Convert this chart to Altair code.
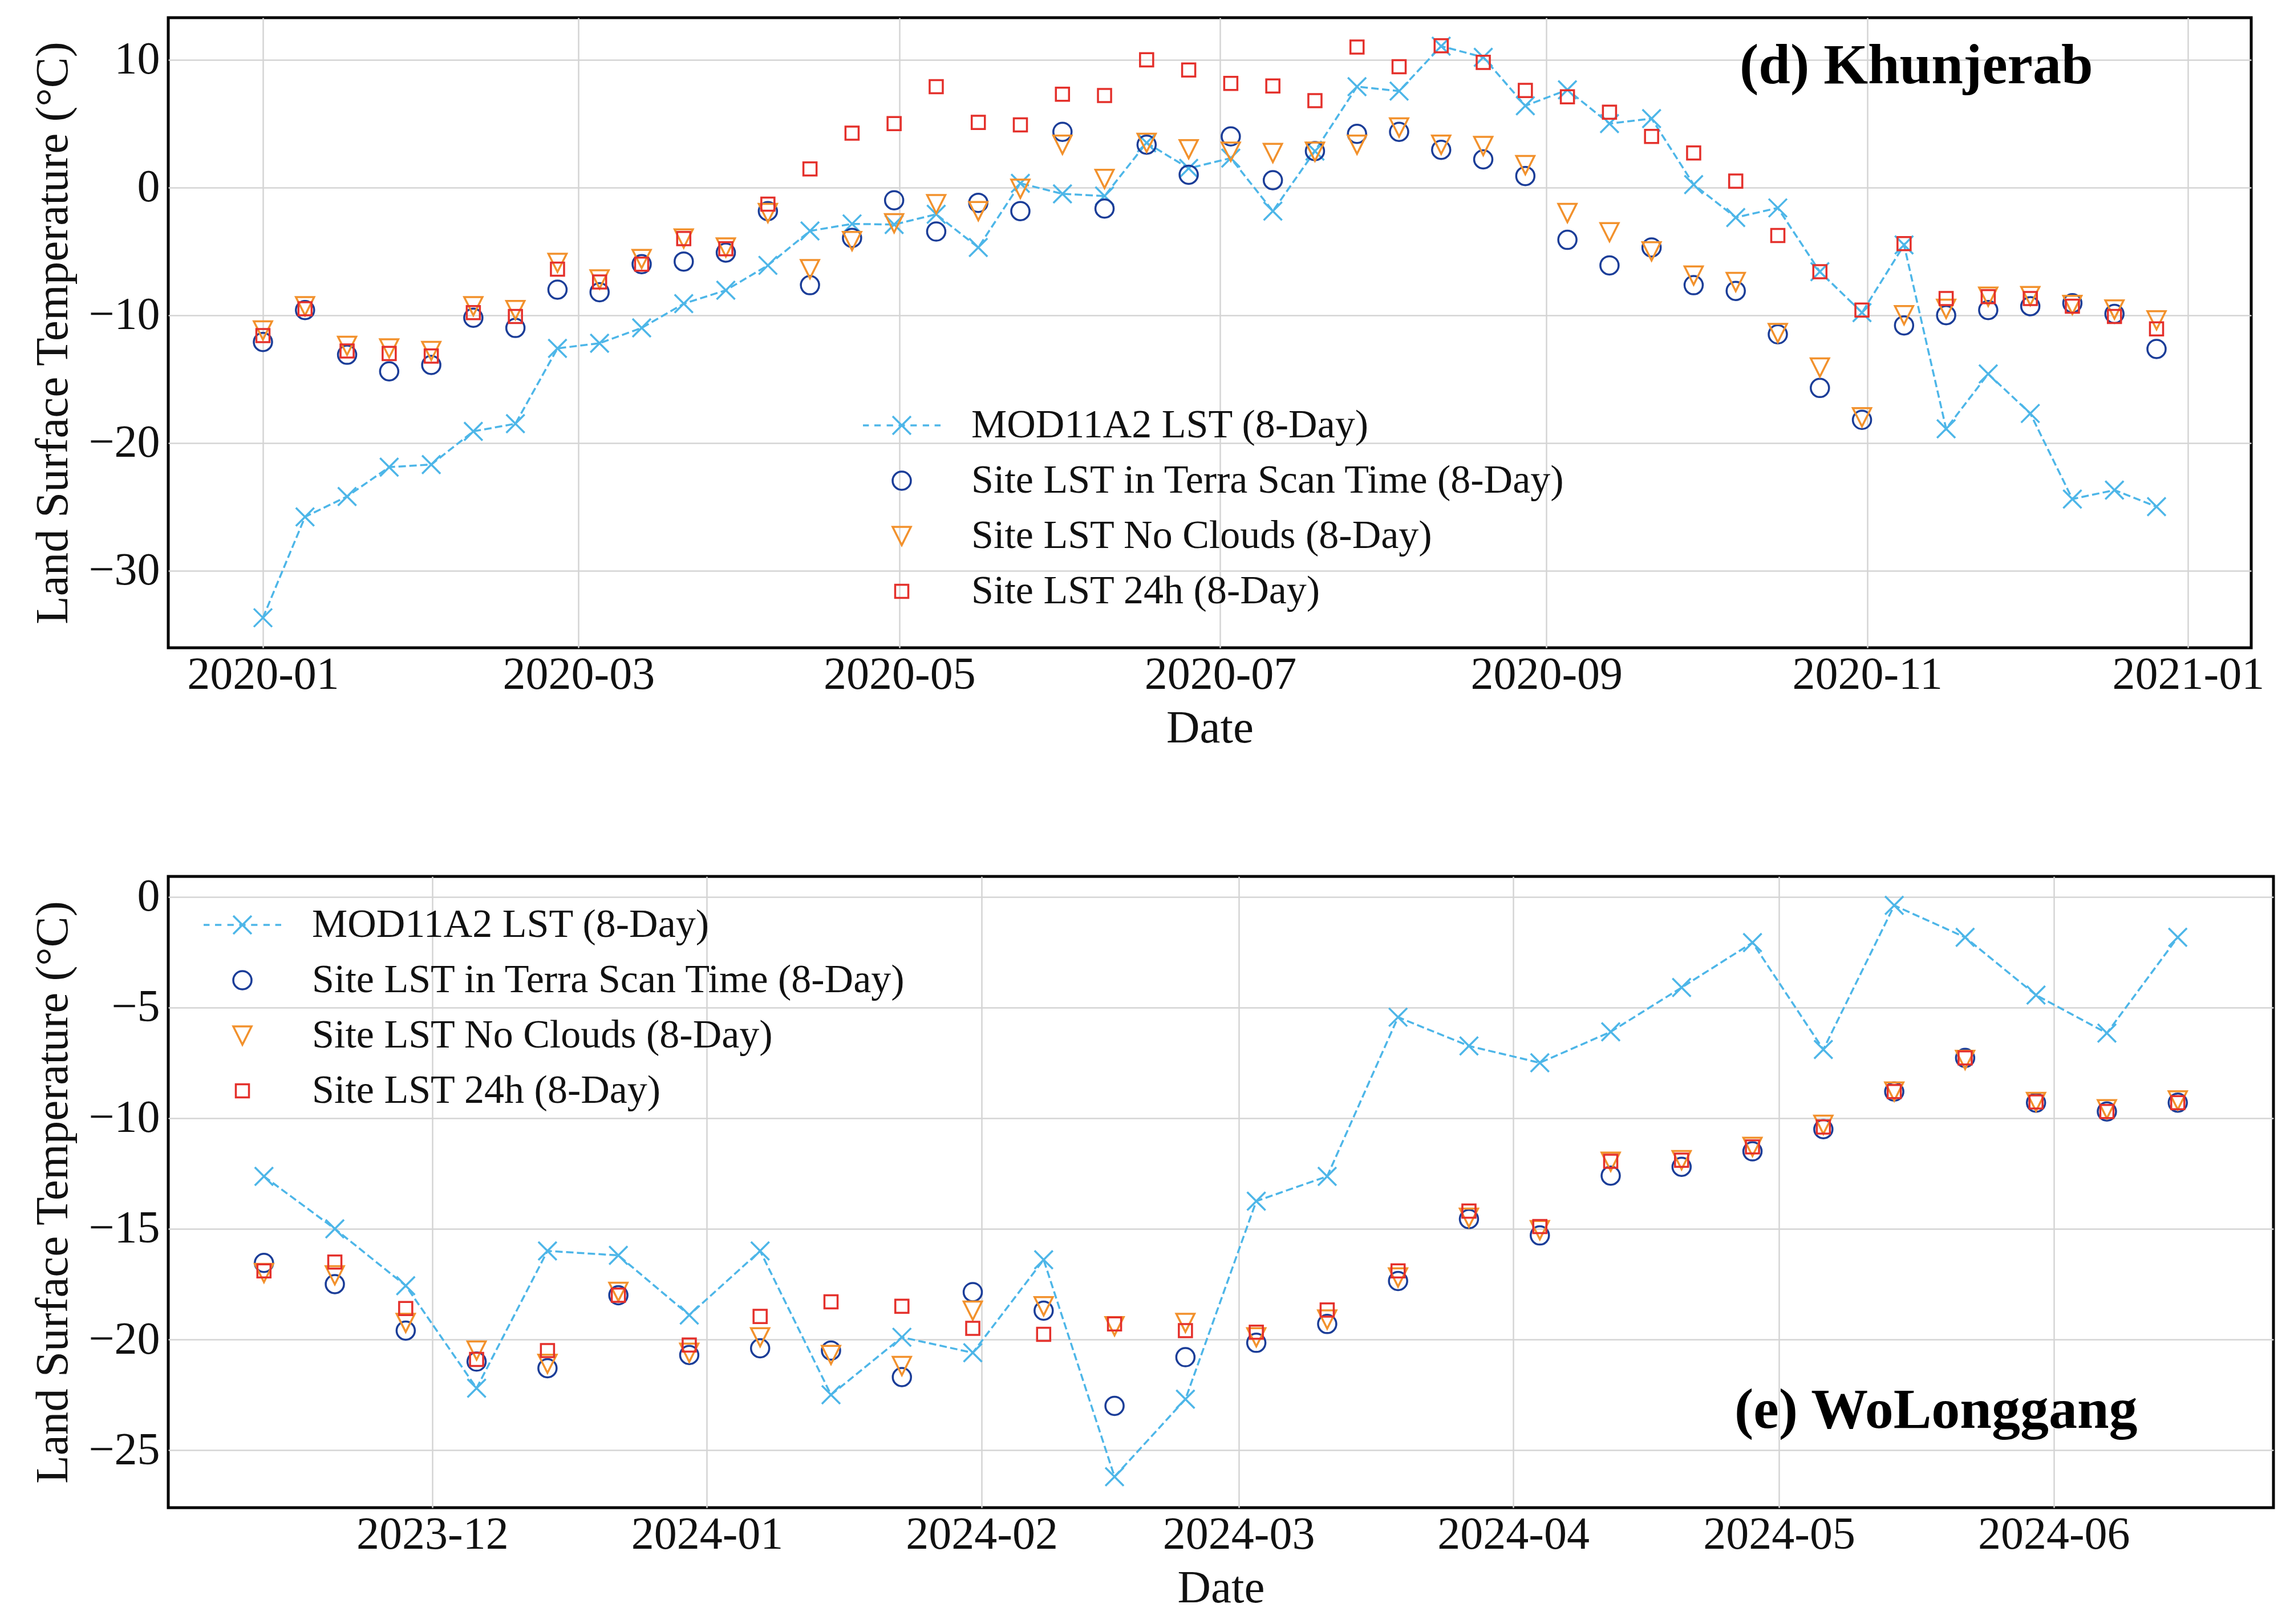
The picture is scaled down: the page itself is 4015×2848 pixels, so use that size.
import altair as alt
import pandas as pd

FONT = "Liberation Serif"

# ---------------- data ----------------
series_names = [
    "MOD11A2 LST (8-Day)",
    "Site LST in Terra Scan Time (8-Day)",
    "Site LST No Clouds (8-Day)",
    "Site LST 24h (8-Day)",
]
series_colors = ["#4DB6E8", "#1B3D98", "#F2912C", "#E4302B"]

# (d) Khunjerab, 2020
dates_d = [
    "2020-01-01", "2020-01-09", "2020-01-17", "2020-01-25", "2020-02-02", "2020-02-10",
    "2020-02-18", "2020-02-26", "2020-03-05", "2020-03-13", "2020-03-21", "2020-03-29",
    "2020-04-06", "2020-04-14", "2020-04-22", "2020-04-30", "2020-05-08", "2020-05-16",
    "2020-05-24", "2020-06-01", "2020-06-09", "2020-06-17", "2020-06-25", "2020-07-03",
    "2020-07-11", "2020-07-19", "2020-07-27", "2020-08-04", "2020-08-12", "2020-08-20",
    "2020-08-28", "2020-09-05", "2020-09-13", "2020-09-21", "2020-09-29", "2020-10-07",
    "2020-10-15", "2020-10-23", "2020-10-31", "2020-11-08", "2020-11-16", "2020-11-24",
    "2020-12-02", "2020-12-10", "2020-12-18", "2020-12-26",
]
mod_d = [-33.7, -25.8, -24.2, -21.9, -21.7, -19.1, -18.5, -12.6, -12.2, -11.0, -9.1, -8.05,
         -6.1, -3.4, -2.85, -2.9, -2.1, -4.7, 0.33, -0.5, -0.67, 3.5, 1.5, 2.3,
         -1.85, 2.85, 7.9, 7.55, 11.07, 10.2, 6.4, 7.65, 5.0, 5.4, 0.23, -2.35,
         -1.6, -6.6, -9.8, -4.5, -18.9, -14.6, -17.7, -24.4, -23.7, -25.0]
terra_d = [-12.1, -9.6, -13.1, -14.4, -13.9, -10.2, -11.0, -8.0, -8.2, -6.0, -5.8, -5.1,
           -1.85, -7.65, -3.95, -1.0, -3.45, -1.2, -1.85, 4.36, -1.65, 3.35, 1.0, 4.0,
           0.57, 2.85, 4.2, 4.36, 2.95, 2.2, 0.9, -4.1, -6.1, -4.7, -7.65, -8.1,
           -11.5, -15.7, -18.2, -10.8, -10.0, -9.6, -9.3, -9.06, -9.9, -12.65]
noclouds_d = [-11.2, -9.3, -12.4, -12.6, -12.8, -9.3, -9.6, -5.9, -7.2, -5.6, -4.0, -4.7,
              -2.0, -6.4, -4.2, -2.8, -1.3, -1.85, -0.1, 3.35, 0.67, 3.5, 3.0, 2.8,
              2.7, 2.8, 3.35, 4.7, 3.35, 3.25, 1.75, -2.0, -3.5, -5.0, -6.9, -7.4,
              -11.4, -14.1, -18.0, -10.0, -9.5, -8.55, -8.5, -9.2, -9.56, -10.4]
h24_d = [-11.6, -9.5, -12.8, -13.0, -13.2, -9.8, -10.1, -6.4, -7.4, -6.0, -4.0, -4.8,
         -1.3, 1.45, 4.26, 5.0, 7.9, 5.1, 4.9, 7.3, 7.2, 10.0, 9.2, 8.15,
         7.95, 6.8, 11.0, 9.46, 11.1, 9.8, 7.6, 7.1, 5.9, 4.0, 2.7, 0.5,
         -3.76, -6.6, -9.6, -4.4, -8.7, -8.55, -8.7, -9.3, -10.1, -11.07]
xticks_d = ["2020-01-01", "2020-03-01", "2020-05-01", "2020-07-01", "2020-09-01",
            "2020-11-01", "2021-01-01"]
yticks_d = [-30, -20, -10, 0, 10]

# (e) WoLonggang, 2023-2024
dates_e = [
    "2023-11-12", "2023-11-20", "2023-11-28", "2023-12-06", "2023-12-14", "2023-12-22",
    "2023-12-30", "2024-01-07", "2024-01-15", "2024-01-23", "2024-01-31", "2024-02-08",
    "2024-02-16", "2024-02-24", "2024-03-03", "2024-03-11", "2024-03-19", "2024-03-27",
    "2024-04-04", "2024-04-12", "2024-04-20", "2024-04-28", "2024-05-06", "2024-05-14",
    "2024-05-22", "2024-05-30", "2024-06-07", "2024-06-15",
]
mod_e = [-12.63, -15.0, -17.57, -22.2, -16.0, -16.2, -18.9, -16.0, -22.5, -19.9, -20.6, -16.4,
         -26.2, -22.7, -13.75, -12.63, -5.44, -6.74, -7.5, -6.1, -4.1, -2.07, -6.9, -0.39,
         -1.83, -4.44, -6.16, -1.83]
terra_e = [-16.54, -17.5, -19.6, -21.0, -21.3, -18.0, -20.7, -20.4, -20.5, -21.7, -17.86, -18.7,
           -23.0, -20.8, -20.15, -19.3, -17.36, -14.56, -15.3, -12.6, -12.2, -11.5, -10.5, -8.8,
           -7.28, -9.3, -9.7, -9.3]
noclouds_e = [-17.0, -17.1, -19.25, -20.5, -21.1, -17.85, -20.6, -19.9, -20.7, -21.2, -18.7, -18.5,
              -19.4, -19.25, -19.9, -19.1, -17.2, -14.5, -15.06, -11.97, -11.9, -11.3, -10.3, -8.8,
              -7.37, -9.27, -9.6, -9.2]
h24_e = [-16.9, -16.5, -18.6, -20.9, -20.5, -18.0, -20.25, -18.96, -18.3, -18.5, -19.5, -19.77,
         -19.3, -19.6, -19.67, -18.67, -16.9, -14.2, -14.9, -11.95, -11.9, -11.3, -10.4, -8.8,
         -7.28, -9.27, -9.7, -9.3]
xticks_e = ["2023-12-01", "2024-01-01", "2024-02-01", "2024-03-01", "2024-04-01",
            "2024-05-01", "2024-06-01"]
yticks_e = [-25, -20, -15, -10, -5, 0]

# ---------------- styling ----------------
X_PATH = "M-1,-1L1,1M-1,1L1,-1"
LEGEND_MOD_PATH = ("M-4.25,0H-3.6M-3.0,0H-2.3M-1.65,0H-0.95M-0.35,0H0.35"
                   "M0.95,0H1.65M2.3,0H3.0M3.6,0H4.25" + X_PATH)
TRI_DOWN = "M-1,-1L1,-1L0,1Z"
SQUARE = "M-0.72,-0.72L0.72,-0.72L0.72,0.72L-0.72,0.72Z"
shape_range = [LEGEND_MOD_PATH, "circle", TRI_DOWN, SQUARE]

SYM = 1024
SW = 3.5


def ms(s):
    return int(pd.Timestamp(s, tz="UTC").value // 10**6)


def padded_domain(dates):
    t0 = pd.Timestamp(dates[0], tz="UTC")
    t1 = pd.Timestamp(dates[-1], tz="UTC")
    m = (t1 - t0) * 0.05
    return [int((t0 - m).value // 10**6), int((t1 + m).value // 10**6)]


def panel(dates, mod, terra, noclouds, h24, xticks, ydom, yticks, label,
          label_xy, legend_xy, width, height):
    df_mod = pd.DataFrame({"date": dates, "lst": mod, "series": series_names[0]})
    site = pd.concat(
        [pd.DataFrame({"date": dates, "lst": v, "series": n})
         for n, v in zip(series_names[1:], [terra, noclouds, h24])],
        ignore_index=True,
    )
    x = alt.X(
        "date:T",
        scale=alt.Scale(type="utc", domain=padded_domain(dates), nice=False),
        axis=alt.Axis(values=[ms(t) for t in xticks], format="%Y-%m", title="Date",
                      labelFlush=False, labelOverlap=False, labelPadding=8,
                      titlePadding=14, labelLimit=0),
    )
    y = alt.Y(
        "lst:Q",
        scale=alt.Scale(domain=ydom, nice=False, zero=False),
        axis=alt.Axis(values=yticks, title="Land Surface Temperature (°C)",
                      labelPadding=15, titlePadding=20, labelOverlap=False,
                      labelLimit=0),
    )
    leg = alt.Legend(
        orient="none", legendX=legend_xy[0], legendY=legend_xy[1], title=None,
        labelFont=FONT, labelFontSize=70, labelColor="#111111", labelLimit=0,
        symbolSize=SYM, symbolStrokeWidth=SW, labelOffset=87, rowPadding=27,
        padding=0, direction="vertical",
    )
    line = alt.Chart(df_mod).mark_line(
        color=series_colors[0], strokeDash=[13, 6], strokeWidth=SW
    ).encode(x=x, y=y)
    xs = alt.Chart(df_mod).mark_point(
        shape=X_PATH, filled=False, size=SYM, strokeWidth=SW, opacity=1,
        color=series_colors[0]
    ).encode(x=x, y=y)
    pts = alt.Chart(site).mark_point(
        filled=False, size=SYM, strokeWidth=SW, opacity=1
    ).encode(
        x=x, y=y,
        color=alt.Color("series:N", scale=alt.Scale(domain=series_names, range=series_colors),
                        legend=leg, sort=series_names),
        shape=alt.Shape("series:N", scale=alt.Scale(domain=series_names, range=shape_range),
                        legend=leg, sort=series_names),
    )
    txt = alt.Chart(pd.DataFrame({"t": [label]})).mark_text(
        align="left", baseline="alphabetic", font=FONT, fontSize=100,
        fontWeight="bold", color="black"
    ).encode(x=alt.value(label_xy[0]), y=alt.value(label_xy[1]), text="t:N")
    return alt.layer(line, xs, pts, txt).properties(width=width, height=height)


top = panel(dates_d, mod_d, terra_d, noclouds_d, h24_d, xticks_d, [-36.05, 13.3], yticks_d,
            "(d) Khunjerab", (2755, 115), (1251, 680), 3652, 1105)
bottom = panel(dates_e, mod_e, terra_e, noclouds_e, h24_e, xticks_e, [-27.6, 0.92], yticks_e,
               "(e) WoLonggang", (2746, 967), (95, 50), 3691, 1107)

chart = (
    alt.vconcat(top, bottom, spacing=401, bounds="flush")
    .resolve_scale(x="independent", y="independent", color="independent", shape="independent")
    .resolve_legend(color="independent", shape="independent")
    .configure_view(stroke="black", strokeWidth=5)
    .configure_axis(
        labelFont=FONT, titleFont=FONT, labelFontSize=80, titleFontSize=81,
        labelColor="#111111", titleColor="#111111", titleFontWeight="normal",
        gridColor="#D4D4D4", gridWidth=2.5, ticks=False, tickSize=0, domain=False,
    )
    .properties(padding={"left": 42, "top": 20, "right": 10, "bottom": 10},
                background="white")
)

chart.save("out.html", embed_options={"renderer": "svg", "actions": False})
